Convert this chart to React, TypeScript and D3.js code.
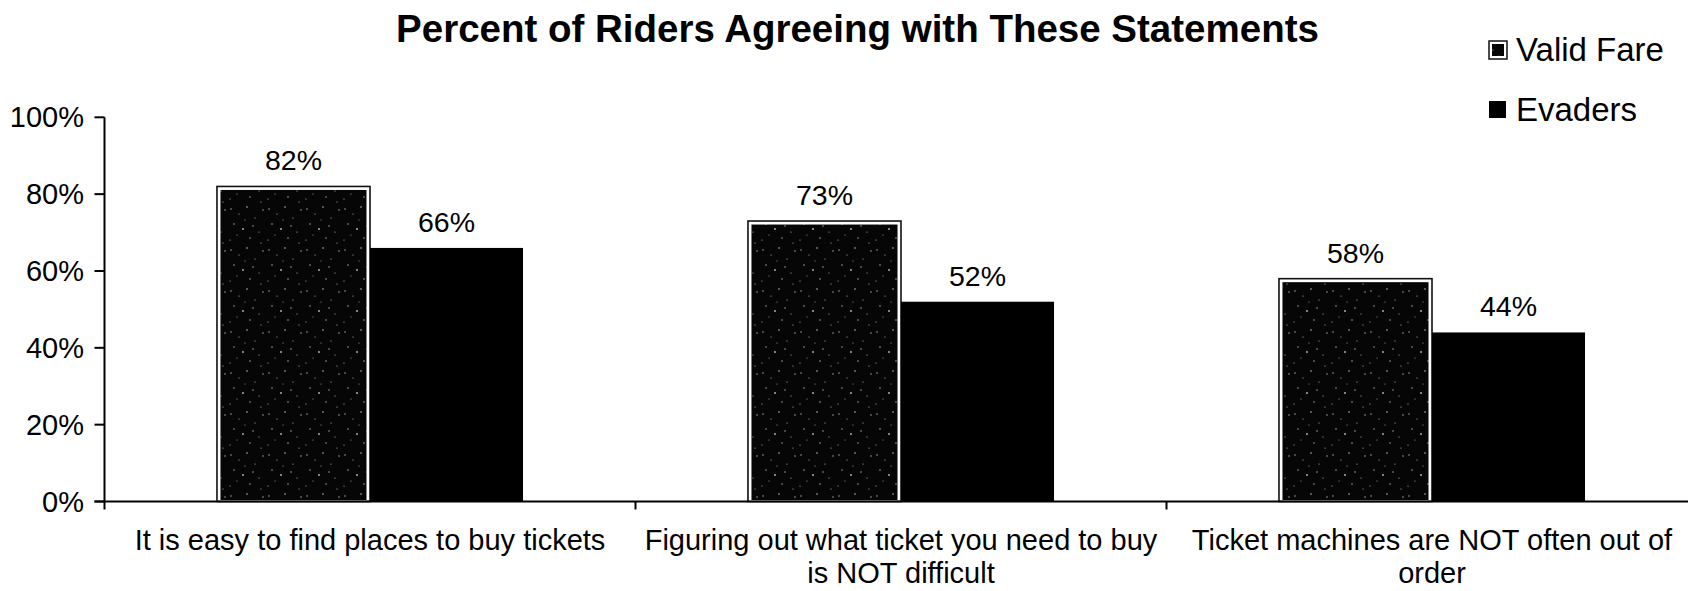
import React from "react";
import * as d3 from "d3";

const categories: string[][] = [
  ["It is easy to find places to buy tickets"],
  ["Figuring out what ticket you need to buy", "is NOT difficult"],
  ["Ticket machines are NOT often out of", "order"],
];
const categoryKeys = ["c1", "c2", "c3"];
const validFare = [0.82, 0.73, 0.58];
const evaders = [0.66, 0.52, 0.44];
const seriesNames = ["Valid Fare", "Evaders"];
const yTicks = [0, 0.2, 0.4, 0.6, 0.8, 1.0];
const title = "Percent of Riders Agreeing with These Statements";

// texture speckles for the "Valid Fare" fill (style only)
const speckles: [number, number, number][] = [
  [3, 4, 0.7], [11, 9, 0.6], [19, 2, 0.8], [27, 13, 0.6], [6, 19, 0.7],
  [15, 24, 0.9], [31, 27, 0.6], [22, 33, 0.7], [2, 35, 0.6], [35, 5, 0.7],
  [9, 30, 0.5], [25, 21, 0.7], [17, 15, 0.5], [33, 38, 0.6],
];

const FONT = "'Liberation Sans', Arial, Helvetica, sans-serif";

export default function App() {
  const W = 1688;
  const H = 591;
  const x0 = 104.5;
  const catW = 531;
  const yScale = d3.scaleLinear().domain([0, 1]).range([501.5, 117.3]);
  const xScale = d3
    .scaleBand<string>()
    .domain(categoryKeys)
    .range([x0, x0 + catW * 3])
    .paddingInner(0)
    .paddingOuter(0);
  const sub = d3
    .scaleBand<string>()
    .domain(seriesNames)
    .range([0, catW])
    .paddingInner(0)
    .paddingOuter(0.735);
  const bw = sub.bandwidth();
  const fmt = d3.format(".0%");
  const baseY = yScale(0);

  return (
    <svg
      width={W}
      height={H}
      style={{ position: "absolute", left: 0, top: 0, background: "#fff" }}
      fontFamily={FONT}
    >
      <defs>
        <pattern id="speck" width={38} height={41} patternUnits="userSpaceOnUse">
          <rect width={38} height={41} fill="#060606" />
          {speckles.map(([cx, cy, r], i) => (
            <circle key={i} cx={cx} cy={cy} r={r} fill="#bdbdbd" />
          ))}
        </pattern>
      </defs>
      <rect width={W} height={H} fill="#fff" />

      <text
        x={857.5}
        y={42}
        textAnchor="middle"
        fontSize={38.5}
        fontWeight="bold"
        fill="#000"
      >
        {title}
      </text>

      {/* Y axis */}
      <line x1={x0} x2={x0} y1={yScale(1)} y2={baseY + 8} stroke="#000" strokeWidth={2} />
      {yTicks.map((t) => (
        <g key={t}>
          <line x1={x0 - 10} x2={x0} y1={yScale(t)} y2={yScale(t)} stroke="#000" strokeWidth={2} />
          <text
            x={84}
            y={yScale(t)}
            dy="0.35em"
            textAnchor="end"
            fontSize={29}
            fill="#000"
          >
            {fmt(t)}
          </text>
        </g>
      ))}

      {/* Bars */}
      {categoryKeys.map((k, i) => {
        const cx = xScale(k)!;
        const vx = cx + sub("Valid Fare")!;
        const ex = cx + sub("Evaders")!;
        const vy = yScale(validFare[i]);
        const ey = yScale(evaders[i]);
        return (
          <g key={k}>
            <rect x={vx} y={vy} width={bw} height={baseY - vy} fill="#fff" stroke="#111" strokeWidth={1.6} />
            <rect x={vx + 3.5} y={vy + 3.5} width={bw - 7} height={baseY - vy - 5} fill="url(#speck)" />
            <rect x={ex} y={ey} width={bw} height={baseY - ey} fill="#000" />
            <text x={vx + bw / 2} y={vy - 16} textAnchor="middle" fontSize={28.5} fill="#000">
              {fmt(validFare[i])}
            </text>
            <text x={ex + bw / 2} y={ey - 16} textAnchor="middle" fontSize={28.5} fill="#000">
              {fmt(evaders[i])}
            </text>
          </g>
        );
      })}

      {/* X axis */}
      <line x1={x0 - 10} x2={W} y1={baseY} y2={baseY} stroke="#000" strokeWidth={2} />
      {categoryKeys.slice(1).map((k) => (
        <line
          key={k}
          x1={xScale(k)!}
          x2={xScale(k)!}
          y1={baseY}
          y2={baseY + 8}
          stroke="#000"
          strokeWidth={2}
        />
      ))}
      {categoryKeys.map((k, i) => (
        <text
          key={k}
          x={xScale(k)! + catW / 2}
          y={550}
          textAnchor="middle"
          fontSize={29}
          fill="#000"
        >
          {categories[i].map((line, j) => (
            <tspan key={j} x={xScale(k)! + catW / 2} dy={j === 0 ? 0 : 33}>
              {line}
            </tspan>
          ))}
        </text>
      ))}

      {/* Legend */}
      <g>
        <rect x={1489} y={41} width={18} height={18} fill="#fff" stroke="#111" strokeWidth={1.5} />
        <rect x={1492} y={44} width={12} height={12} fill="url(#speck)" />
        <text x={1516} y={61} fontSize={33} fill="#000">
          {seriesNames[0]}
        </text>
        <rect x={1489} y={101} width={17} height={17} fill="#000" />
        <text x={1516} y={121} fontSize={33} fill="#000">
          {seriesNames[1]}
        </text>
      </g>
    </svg>
  );
}
